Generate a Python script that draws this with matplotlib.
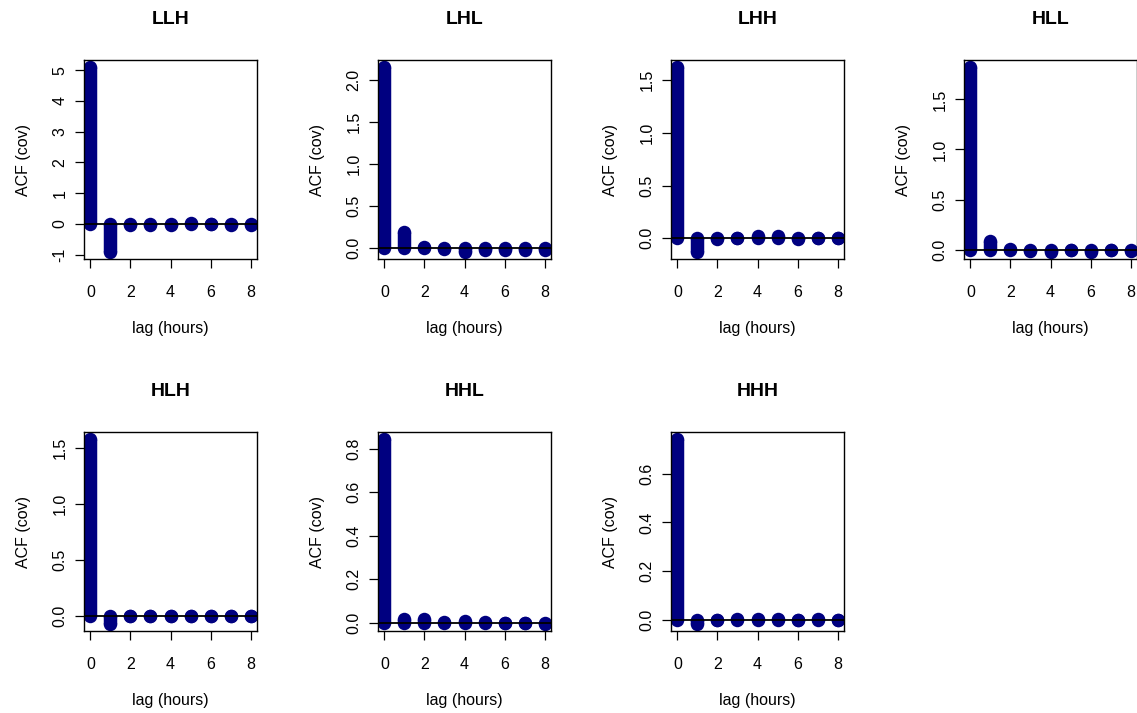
import numpy as np
import matplotlib
matplotlib.use("Agg")
import matplotlib.pyplot as plt

plt.rcParams['font.family'] = ['Liberation Sans', 'DejaVu Sans']
plt.rcParams['axes.unicode_minus'] = False

# lag (hours) and autocovariance per group
lags = [0, 1, 2, 3, 4, 5, 6, 7, 8]
titles = ['LLH', 'LHL', 'LHH', 'HLL', 'HLH', 'HHL', 'HHH']
acf_llh = [5.09, -0.90, -0.05, -0.02, -0.03, 0.03, -0.01, -0.02, -0.02]
acf_lhl = [2.15, 0.19, 0.01, -0.01, -0.04, -0.02, -0.02, -0.02, -0.02]
acf_lhh = [1.62, -0.126, -0.01, 0.0, 0.02, 0.02, -0.01, 0.0, 0.0]
acf_hll = [1.82, 0.083, 0.01, -0.01, -0.02, 0.0, -0.02, 0.0, -0.01]
acf_hlh = [1.58, -0.068, 0.003, 0.002, 0.003, 0.002, 0.002, 0.001, 0.001]
acf_hhl = [0.842, 0.015, 0.016, 0.005, 0.006, 0.005, -0.003, -0.002, -0.004]
acf_hhh = [0.74, -0.015, 0.0, 0.005, 0.005, 0.005, 0.0, 0.005, 0.0]
series = [acf_llh, acf_lhl, acf_lhh, acf_hll, acf_hlh, acf_hhl, acf_hhh]

yticks = [
    [-1, 0, 1, 2, 3, 4, 5],
    [0.0, 0.5, 1.0, 1.5, 2.0],
    [0.0, 0.5, 1.0, 1.5],
    [0.0, 0.5, 1.0, 1.5],
    [0.0, 0.5, 1.0, 1.5],
    [0.0, 0.2, 0.4, 0.6, 0.8],
    [0.0, 0.2, 0.4, 0.6],
]
ytick_fmt = ['{:.0f}'] + ['{:.1f}'] * 6

W, H = 1137, 713
fig = plt.figure(figsize=(W / 100, H / 100), dpi=100)

# panel boxes in pixels (left, top)
lefts = [84, 378, 671, 964]
tops = [60, 432]
bw, bh = 173, 199
lw = 9.7
col = '#000080'
fs = 11.5

for i, (name, vals) in enumerate(zip(titles, series)):
    r, c = divmod(i, 4)
    ax = fig.add_axes([lefts[c] / W, 1 - (tops[r] + bh) / H, bw / W, bh / H])
    # R type="h" with a very thick line: round ends even for ~0 values
    ax.vlines(lags, 0, vals, colors=col, linewidth=lw, capstyle='butt')
    ax.scatter(lags, vals, s=lw ** 2, color=col, linewidths=0, zorder=2)
    ax.scatter(lags, np.zeros(len(lags)), s=lw ** 2, color=col, linewidths=0, zorder=2)
    ax.axhline(0, color='black', linewidth=1.3, zorder=3)
    ax.margins(x=0.04, y=0.04)
    ax.set_xticks([0, 2, 4, 6, 8])
    ax.set_yticks(yticks[i])
    ax.set_yticklabels([ytick_fmt[i].format(v) for v in yticks[i]])
    ax.tick_params(axis='both', length=6.5, width=0.9, labelsize=fs, colors='black')
    ax.tick_params(axis='x', pad=12)
    ax.tick_params(axis='y', pad=5.5)
    for lab in ax.get_yticklabels():
        lab.set_rotation(90)
        lab.set_va('center')
    for s in ax.spines.values():
        s.set_linewidth(1.0)
    ax.set_title(name, fontsize=14, fontweight='bold', pad=26)
    ax.set_xlabel('lag (hours)', fontsize=fs, labelpad=15)
    ax.set_ylabel('ACF (cov)', fontsize=fs, labelpad=15.5)

fig.savefig('out.png', dpi=100)
